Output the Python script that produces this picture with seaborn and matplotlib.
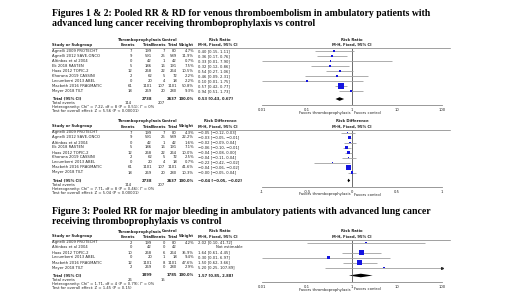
import numpy as np
import pandas as pd
import matplotlib
matplotlib.use("Agg")
import matplotlib.pyplot as plt
import seaborn as sns

# ---- data: VTE (figures 1 & 2) ----
studies_vte = ["Agnelli 2009 PROTECHT", "Agnelli 2012 SAVE-ONCO", "Altinbas et al 2004",
               "Ek 2018 RASTEN", "Haas 2012 TOPIC-2", "Khorana 2019 CASSINI",
               "Lecumberri 2013 ABEL", "Macbeth 2016 FRAGMATIC", "Meyer 2018 TILT"]
tp_events_vte = [7, 9, 0, 5, 12, 2, 0, 61, 18]
tp_total_vte = [199, 591, 42, 186, 268, 62, 20, 1101, 269]
ctl_events_vte = [7, 25, 1, 16, 22, 5, 4, 107, 20]
ctl_total_vte = [80, 589, 42, 191, 264, 72, 18, 1101, 280]

weight_rr = [4.7, 11.9, 0.7, 7.5, 10.5, 2.2, 2.2, 50.8, 9.3]
rr = [0.40, 0.36, 0.33, 0.32, 0.54, 0.46, 0.10, 0.57, 0.94]
rr_lo = [0.15, 0.17, 0.01, 0.12, 0.27, 0.09, 0.01, 0.42, 0.51]
rr_hi = [1.11, 0.76, 7.90, 0.86, 1.06, 2.31, 1.75, 0.77, 1.73]
rr_total = (0.53, 0.43, 0.67)

weight_rd = [4.3, 22.2, 1.6, 7.1, 10.0, 2.5, 0.7, 41.6, 10.3]
rd = [-0.05, -0.03, -0.02, -0.06, -0.04, -0.04, -0.22, -0.04, -0.00]
rd_lo = [-0.12, -0.05, -0.09, -0.10, -0.08, -0.11, -0.42, -0.06, -0.05]
rd_hi = [0.03, -0.01, 0.04, -0.01, 0.00, 0.04, -0.02, -0.02, 0.04]
rd_total = (-0.04, -0.05, -0.02)

# ---- data: major bleeding (figure 3) ----
studies_bl = ["Agnelli 2009 PROTECHT", "Altinbas et al 2004", "Haas 2012 TOPIC-2",
              "Lecumberri 2013 ABEL", "Macbeth 2016 FRAGMATIC", "Meyer 2018 TILT"]
tp_events_bl = [2, 0, 10, 0, 12, 2]
tp_total_bl = [199, 42, 268, 20, 1101, 269]
ctl_events_bl = [0, 0, 6, 1, 8, 0]
ctl_total_bl = [80, 42, 264, 18, 1101, 280]
weight_bl = [4.2, None, 35.9, 9.4, 47.6, 2.9]
rr_bl = [2.02, None, 1.64, 0.30, 1.50, 5.20]
rr_bl_lo = [0.10, None, 0.61, 0.01, 0.62, 0.25]
rr_bl_hi = [41.72, None, 4.45, 6.97, 3.66, 107.89]
rr_bl_total = (1.57, 0.85, 2.88)

W, H = 520, 292
fig = plt.figure(figsize=(W / 100, H / 100), dpi=100)
sns.set_style("white")

FS = 2.7
TXT = "#222222"
GREY = "#a0a0a0"
BLUE = "#1414e0"

X_STUDY, X_EV1, X_TOT1, X_EV2, X_TOT2, X_WT, X_CI = 52, 132, 152, 165, 177, 194, 198
X_PL, X_PR, X_END = 262, 442, 450
STEP = 5.0


def txt(x, y, s, ha="left", bold=False, size=FS, **kw):
    fig.text(x / W, 1 - y / H, s, ha=ha, va="center", fontsize=size,
             fontweight="bold" if bold else "normal", color=kw.pop("color", TXT), **kw)


def hline(x0, x1, y, color=GREY, lw=0.7):
    fig.add_artist(plt.Line2D([x0 / W, x1 / W], [1 - y / H, 1 - y / H],
                              color=color, lw=lw, transform=fig.transFigure))


def fmt(v):
    return f"{v:.2f}".replace("-", "\u2212")


def block(top, studies, ev1, tot1, ev2, tot2, wts, est, lo, hi, total, title,
          het, zline, log=True):
    rows = [top + 11 + STEP * i for i in range(len(studies))]
    y_total = rows[-1] + 8
    y_axis = y_total + 6.5

    # header
    txt((X_EV1 + X_TOT1) / 2 - 3, top, "Thromboprophylaxis", ha="center", bold=True)
    txt((X_EV2 + X_TOT2) / 2 - 1, top, "Control", ha="center", bold=True)
    txt(X_CI + 22, top, title, ha="center", bold=True)
    txt((X_PL + X_PR) / 2, top, title, ha="center", bold=True)
    y2 = top + 5
    txt(X_STUDY, y2, "Study or Subgroup", bold=True)
    txt(X_EV1 + 3, y2, "Events", ha="right", bold=True)
    txt(X_TOT1, y2, "Total", ha="right", bold=True)
    txt(X_EV2 + 1, y2, "Events", ha="right", bold=True)
    txt(X_TOT2, y2, "Total", ha="right", bold=True)
    txt(X_WT, y2, "Weight", ha="right", bold=True)
    txt(X_CI, y2, "M-H, Fixed, 95% CI", bold=True)
    txt((X_PL + X_PR) / 2, y2, "M-H, Fixed, 95% CI", ha="center", bold=True)
    hline(X_STUDY, X_END, top + 8)

    for i, y in enumerate(rows):
        txt(X_STUDY, y, studies[i])
        txt(X_EV1, y, str(ev1[i]), ha="right")
        txt(X_TOT1, y, str(tot1[i]), ha="right")
        txt(X_EV2, y, str(ev2[i]), ha="right")
        txt(X_TOT2, y, str(tot2[i]), ha="right")
        if est[i] is None:
            txt(X_CI + 44, y, "Not estimable", ha="right")
        else:
            txt(X_WT, y, f"{wts[i]:.1f}%", ha="right")
            txt(X_CI, y, f"{fmt(est[i])} [{fmt(lo[i])}, {fmt(hi[i])}]")

    txt(X_STUDY, y_total, "Total (95% CI)", bold=True)
    txt(X_TOT1, y_total, str(sum(tot1)), ha="right", bold=True)
    txt(X_TOT2, y_total, str(sum(tot2)), ha="right", bold=True)
    txt(X_WT, y_total, "100.0%", ha="right", bold=True)
    txt(X_CI, y_total, f"{fmt(total[0])} [{fmt(total[1])}, {fmt(total[2])}]", bold=True)
    txt(X_STUDY, y_total + 4.3, "Total events")
    txt(X_EV1, y_total + 4.3, str(sum(ev1)), ha="right")
    txt(X_EV2, y_total + 4.3, str(sum(ev2)), ha="right")
    txt(X_STUDY, y_total + 8.3, het[0])
    txt(X_STUDY, y_total + 12.3, het[1])

    # forest panel, y in pixel units
    ax = fig.add_axes([X_PL / W, 1 - y_axis / H, (X_PR - X_PL) / W, (y_axis - top - 8) / H])
    if log:
        ax.set_xscale("log")
        xmin, xmax = 0.01, 100
        ticks, labels = [0.01, 0.1, 1, 10, 100], ["0.01", "0.1", "1", "10", "100"]
    else:
        xmin, xmax = -1, 1
        ticks, labels = [-1, -0.5, 0, 0.5, 1], ["-1", "-0.5", "0", "0.5", "1"]
    ax.set_xlim(xmin, xmax)
    ax.set_ylim(y_axis, top + 8)
    ax.axvline(zline, color="#555555", lw=0.6)

    df = pd.DataFrame({"y": rows, "est": est, "lo": lo, "hi": hi, "w": wts}).dropna()
    ax.hlines(df["y"], df["lo"].clip(lower=xmin), df["hi"].clip(upper=xmax),
              color=GREY, lw=0.6)
    clipped = df[df["hi"] > xmax]
    ax.scatter([xmax] * len(clipped), clipped["y"], marker=">", s=1.5, color="#222222",
               clip_on=False, zorder=4)
    sns.scatterplot(data=df, x="est", y="y", size="w", sizes=(0.8, 14), size_norm=(0, 52),
                    marker="s", color=BLUE, edgecolor="none", legend=False, ax=ax, zorder=3)

    e, l, h = total
    ax.fill([l, e, h, e], [y_total, y_total - 1.8, y_total, y_total + 1.8],
            color="black", lw=0)

    for s in ["top", "left", "right"]:
        ax.spines[s].set_visible(False)
    ax.spines["bottom"].set_color("#888888")
    ax.spines["bottom"].set_linewidth(0.6)
    ax.set_xticks(ticks)
    ax.set_xticklabels(labels)
    ax.minorticks_off()
    ax.set_yticks([])
    ax.set_xlabel("")
    ax.set_ylabel("")
    ax.tick_params(axis="x", length=1.5, width=0.5, color="#888888", pad=0.6,
                   labelsize=FS, labelcolor=TXT)
    ax.patch.set_alpha(0)
    zx = ax.transData.transform((zline, 0))[0] / fig.dpi * 100
    txt(zx - 1.5, y_axis + 7.5, "Favors thromboprophylaxis", ha="right")
    txt(zx + 1.5, y_axis + 7.5, "Favors control", ha="left")


serif = ["Liberation Serif", "DejaVu Serif"]
TS = 7.0
txt(X_STUDY, 13.5, "Figures 1 & 2: Pooled RR & RD for venous thromboembolism in ambulatory patients with",
    bold=True, size=TS, family=serif, color="black")
txt(X_STUDY, 23.5, "advanced lung cancer receiving thromboprophylaxis vs control",
    bold=True, size=TS, family=serif, color="black")

block(40, studies_vte, tp_events_vte, tp_total_vte, ctl_events_vte, ctl_total_vte,
      weight_rr, rr, rr_lo, rr_hi, rr_total, "Risk Ratio",
      ["Heterogeneity: Chi\u00b2 = 7.22, df = 8 (P = 0.51); I\u00b2 = 0%",
       "Test for overall effect: Z = 5.56 (P < 0.00001)"], 1, log=True)

block(121.5, studies_vte, tp_events_vte, tp_total_vte, ctl_events_vte, ctl_total_vte,
      weight_rd, rd, rd_lo, rd_hi, rd_total, "Risk Difference",
      ["Heterogeneity: Chi\u00b2 = 7.71, df = 8 (P = 0.46); I\u00b2 = 0%",
       "Test for overall effect: Z = 5.04 (P < 0.00001)"], 0, log=False)

txt(X_STUDY, 211, "Figure 3: Pooled RR for major bleeding in ambulatory patients with advanced lung cancer",
    bold=True, size=TS, family=serif, color="black")
txt(X_STUDY, 221.5, "receiving thromboprophylaxis vs control",
    bold=True, size=TS, family=serif, color="black")

block(231.5, studies_bl, tp_events_bl, tp_total_bl, ctl_events_bl, ctl_total_bl,
      weight_bl, rr_bl, rr_bl_lo, rr_bl_hi, rr_bl_total, "Risk Ratio",
      ["Heterogeneity: Chi\u00b2 = 1.71, df = 4 (P = 0.79); I\u00b2 = 0%",
       "Test for overall effect: Z = 1.45 (P = 0.15)"], 1, log=True)

fig.savefig("out.png", dpi=100, facecolor="white")
